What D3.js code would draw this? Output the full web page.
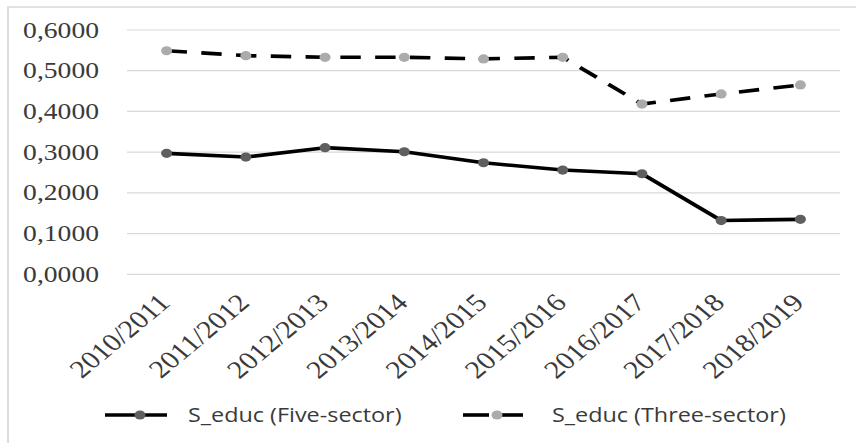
<!DOCTYPE html>
<html>
<head>
<meta charset="utf-8">
<script src="https://cdn.jsdelivr.net/npm/d3@7"></script>
<style>
  html, body { margin: 0; padding: 0; background: #fff; }
</style>
</head>
<body>
<script>
var W = 856, H = 443;
var sx = 1.2; // picture is stretched horizontally

var years = ["2010/2011","2011/2012","2012/2013","2013/2014","2014/2015","2015/2016","2016/2017","2017/2018","2018/2019"];
var fiveSector  = [0.297, 0.288, 0.311, 0.301, 0.274, 0.256, 0.247, 0.132, 0.135];
var threeSector = [0.549, 0.537, 0.533, 0.533, 0.529, 0.533, 0.418, 0.443, 0.465];
var yTicks = [0, 0.1, 0.2, 0.3, 0.4, 0.5, 0.6];
var seriesNames = ["S_educ (Five-sector)", "S_educ (Three-sector)"];

var svg = d3.select("body").append("svg")
  .attr("width", W)
  .attr("height", H);

var g = svg.append("g").attr("transform", "scale(" + sx + ",1)");

// outer frame (only top and left visible in the picture)
g.append("path")
  .attr("d", "M6.7," + H + "V7H" + (W / sx))
  .attr("fill", "none")
  .attr("stroke", "#d9d9d9")
  .attr("stroke-width", 1.5);

var x = d3.scaleBand()
  .domain(years)
  .range([127 / sx, 840 / sx]);

var y = d3.scaleLinear()
  .domain([0, 0.6])
  .range([274.3, 30]);

var cx = (d) => x(d) + x.bandwidth() / 2;

// gridlines
g.selectAll(".grid")
  .data(yTicks)
  .enter()
    .append("line")
    .attr("x1", x.range()[0])
    .attr("x2", x.range()[1])
    .attr("y1", (d) => y(d))
    .attr("y2", (d) => y(d))
    .attr("stroke", "#d9d9d9")
    .attr("stroke-width", 1.2);

// y labels
g.selectAll(".ylab")
  .data(yTicks)
  .enter()
    .append("text")
    .attr("x", 99 / sx)
    .attr("y", (d) => y(d))
    .attr("dy", "0.33em")
    .attr("text-anchor", "end")
    .attr("font-family", "Liberation Serif, Times New Roman, serif")
    .attr("font-size", 23)
    .attr("fill", "#3a3a3a")
    .text((d) => d3.format(".4f")(d).replace(".", ","));

// x labels
g.selectAll(".xlab")
  .data(years)
  .enter()
    .append("text")
    .attr("transform", (d) => "translate(" + (cx(d) - 2) + ",298) rotate(-45)")
    .attr("text-anchor", "end")
    .attr("dy", "0.35em")
    .attr("font-family", "Liberation Serif, Times New Roman, serif")
    .attr("font-size", 25)
    .attr("fill", "#3a3a3a")
    .text((d) => d);

var line = d3.line()
  .x((d, i) => cx(years[i]))
  .y((d) => y(d));

// five-sector: solid
g.append("path")
  .datum(fiveSector)
  .attr("d", line)
  .attr("fill", "none")
  .attr("stroke", "#000")
  .attr("stroke-width", 3.6)
  .attr("stroke-linejoin", "round");

g.selectAll(".m5")
  .data(fiveSector)
  .enter()
    .append("circle")
    .attr("cx", (d, i) => cx(years[i]))
    .attr("cy", (d) => y(d))
    .attr("r", 4.6)
    .attr("fill", "#5f5f5f");

// three-sector: dashed
g.append("path")
  .datum(threeSector)
  .attr("d", line)
  .attr("fill", "none")
  .attr("stroke", "#000")
  .attr("stroke-width", 3.6)
  .attr("stroke-dasharray", "17,12");

g.selectAll(".m3")
  .data(threeSector)
  .enter()
    .append("circle")
    .attr("cx", (d, i) => cx(years[i]))
    .attr("cy", (d) => y(d))
    .attr("r", 4.6)
    .attr("fill", "#ababab");

// legend
var legY = 415;
var leg = [
  { name: seriesNames[0], x0: 105, x1: 167, mx: 140, tx: 188, dash: null, fill: "#5f5f5f" },
  { name: seriesNames[1], x0: 463, x1: 523, mx: 497, tx: 552, dash: "17,12", fill: "#ababab" }
];

leg.forEach((l) => {
  if (l.dash) {
    g.append("line")
      .attr("x1", l.x0 / sx).attr("x2", (l.mx - 8) / sx)
      .attr("y1", legY).attr("y2", legY)
      .attr("stroke", "#000").attr("stroke-width", 3.6);
    g.append("line")
      .attr("x1", (l.mx + 5) / sx).attr("x2", l.x1 / sx)
      .attr("y1", legY).attr("y2", legY)
      .attr("stroke", "#000").attr("stroke-width", 3.6);
  } else {
    g.append("line")
      .attr("x1", l.x0 / sx).attr("x2", l.x1 / sx)
      .attr("y1", legY).attr("y2", legY)
      .attr("stroke", "#000").attr("stroke-width", 3.6);
  }
  g.append("circle")
    .attr("cx", l.mx / sx).attr("cy", legY)
    .attr("r", 4.6).attr("fill", l.fill);
  g.append("text")
    .attr("x", l.tx / sx)
    .attr("y", legY)
    .attr("dy", "0.35em")
    .attr("font-family", "Open Sans, Noto Sans, sans-serif")
    .attr("font-size", 19.5)
    .attr("fill", "#3a3a3a")
    .text(l.name);
});
</script>
</body>
</html>
